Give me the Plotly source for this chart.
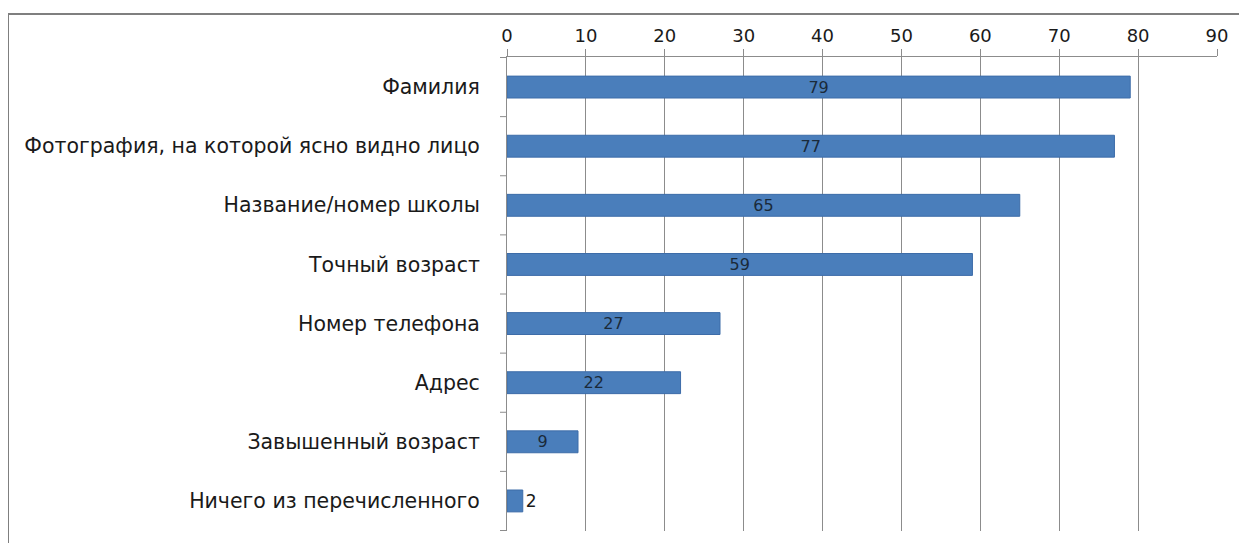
import plotly.graph_objects as go

categories = [
    "Фамилия",
    "Фотография, на которой ясно видно лицо",
    "Название/номер школы",
    "Точный возраст",
    "Номер телефона",
    "Адрес",
    "Завышенный возраст",
    "Ничего из перечисленного",
]
values = [79, 77, 65, 59, 27, 22, 9, 2]
x_ticks = [0, 10, 20, 30, 40, 50, 60, 70, 80, 90]

positions = ["inside"] * (len(values) - 1) + ["outside"]

# page body has ~8px default margin; compensate so the figure lines up with the window
OFF = 8
L, R, T, B = 507 - OFF, 1247 - 1217 + OFF, 57 - OFF, 543 - 531 + OFF
PW = 1247 - L - R
PH = 543 - T - B

fig = go.Figure(
    go.Bar(
        y=categories,
        x=values,
        orientation="h",
        width=0.37,
        marker=dict(color="#4a7ebb", line=dict(color="#3d6ca8", width=1)),
        text=[str(v) for v in values],
        textposition=positions,
        textangle=0,
        constraintext="none",
        insidetextanchor="middle",
        textfont=dict(family="DejaVu Sans", size=16, color="#1a2a3a"),
        outsidetextfont=dict(family="DejaVu Sans", size=17, color="#1a1a1a"),
        cliponaxis=False,
    )
)

fig.update_layout(
    width=1247,
    height=543,
    margin=dict(l=L, r=R, t=T, b=B),
    paper_bgcolor="white",
    plot_bgcolor="white",
    showlegend=False,
    bargap=0.63,
    xaxis=dict(
        side="top",
        range=[0, 90],
        tickvals=x_ticks,
        ticktext=[str(t) for t in x_ticks],
        showgrid=True,
        gridcolor="#8c8c8c",
        gridwidth=1,
        zeroline=False,
        showline=True,
        linecolor="#8c8c8c",
        ticks="outside",
        ticklen=7,
        tickcolor="#8c8c8c",
        tickfont=dict(family="DejaVu Sans", size=18, color="#1a1a1a"),
        fixedrange=True,
    ),
    yaxis=dict(
        categoryorder="array",
        categoryarray=categories[::-1],
        autorange=True,
        showline=True,
        linecolor="#8c8c8c",
        ticks="",
        tickfont=dict(family="DejaVu Sans", size=20.5, color="#1a1a1a"),
        ticklabelstandoff=22,
        showgrid=False,
        fixedrange=True,
    ),
)

# separators between categories on the y axis (tick marks)
for i in range(len(categories) + 1):
    fig.add_shape(
        type="line",
        xref="paper",
        yref="y",
        x0=-7 / PW,
        x1=0,
        y0=i - 0.5,
        y1=i - 0.5,
        line=dict(color="#8c8c8c", width=1),
    )

# outer chart frame (left and top edges visible)
frame_x = (8 - 507) / PW
frame_y = (531 - 14) / PH
fig.add_shape(
    type="line", xref="paper", yref="paper",
    x0=frame_x, x1=frame_x, y0=-0.1, y1=frame_y,
    line=dict(color="#7f7f7f", width=2),
)
fig.add_shape(
    type="line", xref="paper", yref="paper",
    x0=frame_x, x1=1.1, y0=frame_y, y1=frame_y,
    line=dict(color="#7f7f7f", width=2),
)

fig.write_html("out.html")
